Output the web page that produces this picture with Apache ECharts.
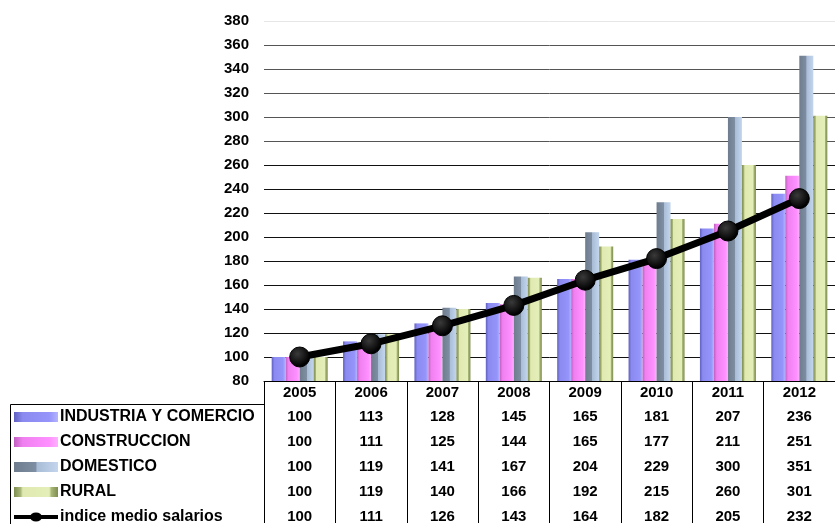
<!DOCTYPE html>
<html>
<head>
<meta charset="utf-8">
<script src="https://cdn.jsdelivr.net/npm/echarts@6/dist/echarts.min.js"></script>
<style>
  html, body { margin: 0; padding: 0; background: #fff; }
  #chart { width: 835px; height: 524px; }
</style>
</head>
<body>
<div id="chart"></div>
<script>
  // años
  var years = ['2005', '2006', '2007', '2008', '2009', '2010', '2011', '2012']
  // series
  var industria = [100, 113, 128, 145, 165, 181, 207, 236]
  var construccion = [100, 111, 125, 144, 165, 177, 211, 251]
  var domestico = [100, 119, 141, 167, 204, 229, 300, 351]
  var rural = [100, 119, 140, 166, 192, 215, 260, 301]
  var indice = [100, 111, 126, 143, 164, 182, 205, 232]
  var names = ['INDUSTRIA Y COMERCIO', 'CONSTRUCCION', 'DOMESTICO', 'RURAL', 'indice medio salarios']
  var rows = [industria, construccion, domestico, rural, indice]

  var font = 'Liberation Sans, Arial, sans-serif'

  function grad (stops) {
    return {
      type: 'linear', x: 0, y: 0, x2: 1, y2: 0,
      colorStops: stops.map(function (s) { return { offset: s[0], color: s[1] } })
    }
  }

  var barColors = [
    grad([[0, '#6060c0'], [0.2, '#8a8af0'], [0.8, '#9494fa'], [1, '#b4b4ff']]),
    grad([[0, '#c060c0'], [0.2, '#f080f0'], [0.8, '#ff90ff'], [1, '#ffb0ff']]),
    grad([[0, '#6e7c8e'], [0.5, '#7f8fa3'], [0.52, '#a8bcd6'], [1, '#c4d6ee']]),
    grad([[0, '#7d8c50'], [0.15, '#a9b878'], [0.2, '#dfe9b0'], [0.8, '#e4eeb8'], [0.85, '#a9b878'], [1, '#7d8c50']])
  ]

  // líneas de la rejilla (80 .. 380)
  var gridColors = []
  for (var i = 0; i < 16; i++) {
    gridColors.push(i < 10 ? '#111' : (i < 15 ? '#555' : '#e6e6e6'))
  }

  // ejes de la tabla de datos
  var xAxes = [{
    type: 'category',
    data: years,
    position: 'bottom',
    axisLine: { show: true, lineStyle: { color: '#000', width: 1 } },
    axisTick: { show: true, length: 142, lineStyle: { color: '#000', width: 1 } },
    axisLabel: { color: '#000', fontFamily: font, fontWeight: 'bold', fontSize: 15, margin: 4 },
    splitLine: { show: false }
  }]
  rows.forEach(function (r, k) {
    xAxes.push({
      type: 'category',
      data: years,
      position: 'bottom',
      offset: 24 + 25 * k,
      axisLine: { show: false },
      axisTick: { show: false },
      axisLabel: {
        color: '#000', fontFamily: font, fontWeight: 'bold', fontSize: 15, margin: 4,
        formatter: function (v, idx) { return String(r[idx]) }
      }
    })
  })

  // icono de la línea en la leyenda
  var lineIcon = 'path://M0,3L17,3L17,7L0,7Z M27,3L44,3L44,7L27,7Z M16,5A6,4.5 0 1,1 28,5A6,4.5 0 1,1 16,5Z'

  var chart = echarts.init(document.getElementById('chart'))
  chart.setOption({
    animation: false,
    backgroundColor: '#fff',
    grid: { left: 264, right: -12, top: 21, bottom: 142, containLabel: false },
    legend: {
      orient: 'vertical',
      left: 14,
      top: 409,
      height: 160,
      padding: 0,
      itemGap: 9,
      itemWidth: 44,
      itemHeight: 10,
      data: [
        { name: names[0], icon: 'rect' },
        { name: names[1], icon: 'rect' },
        { name: names[2], icon: 'rect' },
        { name: names[3], icon: 'rect' },
        { name: names[4], icon: lineIcon, itemStyle: { color: '#000', borderWidth: 0 } }
      ],
      textStyle: { color: '#000', fontFamily: font, fontWeight: 'bold', fontSize: 16, lineHeight: 16, padding: [0, 0, 0, -3] }
    },
    xAxis: xAxes,
    yAxis: {
      type: 'value',
      min: 80,
      max: 380,
      interval: 20,
      axisLine: { show: false },
      axisTick: { show: false },
      axisLabel: { color: '#000', fontFamily: font, fontWeight: 'bold', fontSize: 15, margin: 15 },
      splitLine: { show: true, lineStyle: { color: gridColors, width: 1 } }
    },
    graphic: [
      { type: 'line', shape: { x1: 10.5, y1: 404.5, x2: 264, y2: 404.5 }, style: { stroke: '#000', lineWidth: 1 } },
      { type: 'line', shape: { x1: 10.5, y1: 404.5, x2: 10.5, y2: 524 }, style: { stroke: '#000', lineWidth: 1 } }
    ],
    series: [
      { name: names[0], type: 'bar', data: industria, barWidth: 14, barGap: '0%', itemStyle: { color: barColors[0] } },
      { name: names[1], type: 'bar', data: construccion, barWidth: 14, barGap: '0%', itemStyle: { color: barColors[1] } },
      { name: names[2], type: 'bar', data: domestico, barWidth: 14, barGap: '0%', itemStyle: { color: barColors[2] } },
      { name: names[3], type: 'bar', data: rural, barWidth: 14, barGap: '0%', itemStyle: { color: barColors[3] } },
      {
        name: names[4],
        type: 'line',
        data: indice,
        z: 5,
        symbol: 'circle',
        symbolSize: 20,
        lineStyle: { color: '#000', width: 7 },
        itemStyle: {
          color: {
            type: 'radial', x: 0.4, y: 0.35, r: 0.6,
            colorStops: [{ offset: 0, color: '#3a3a3a' }, { offset: 1, color: '#000' }]
          },
          borderColor: '#000',
          borderWidth: 1
        }
      }
    ]
  })
</script>
</body>
</html>
